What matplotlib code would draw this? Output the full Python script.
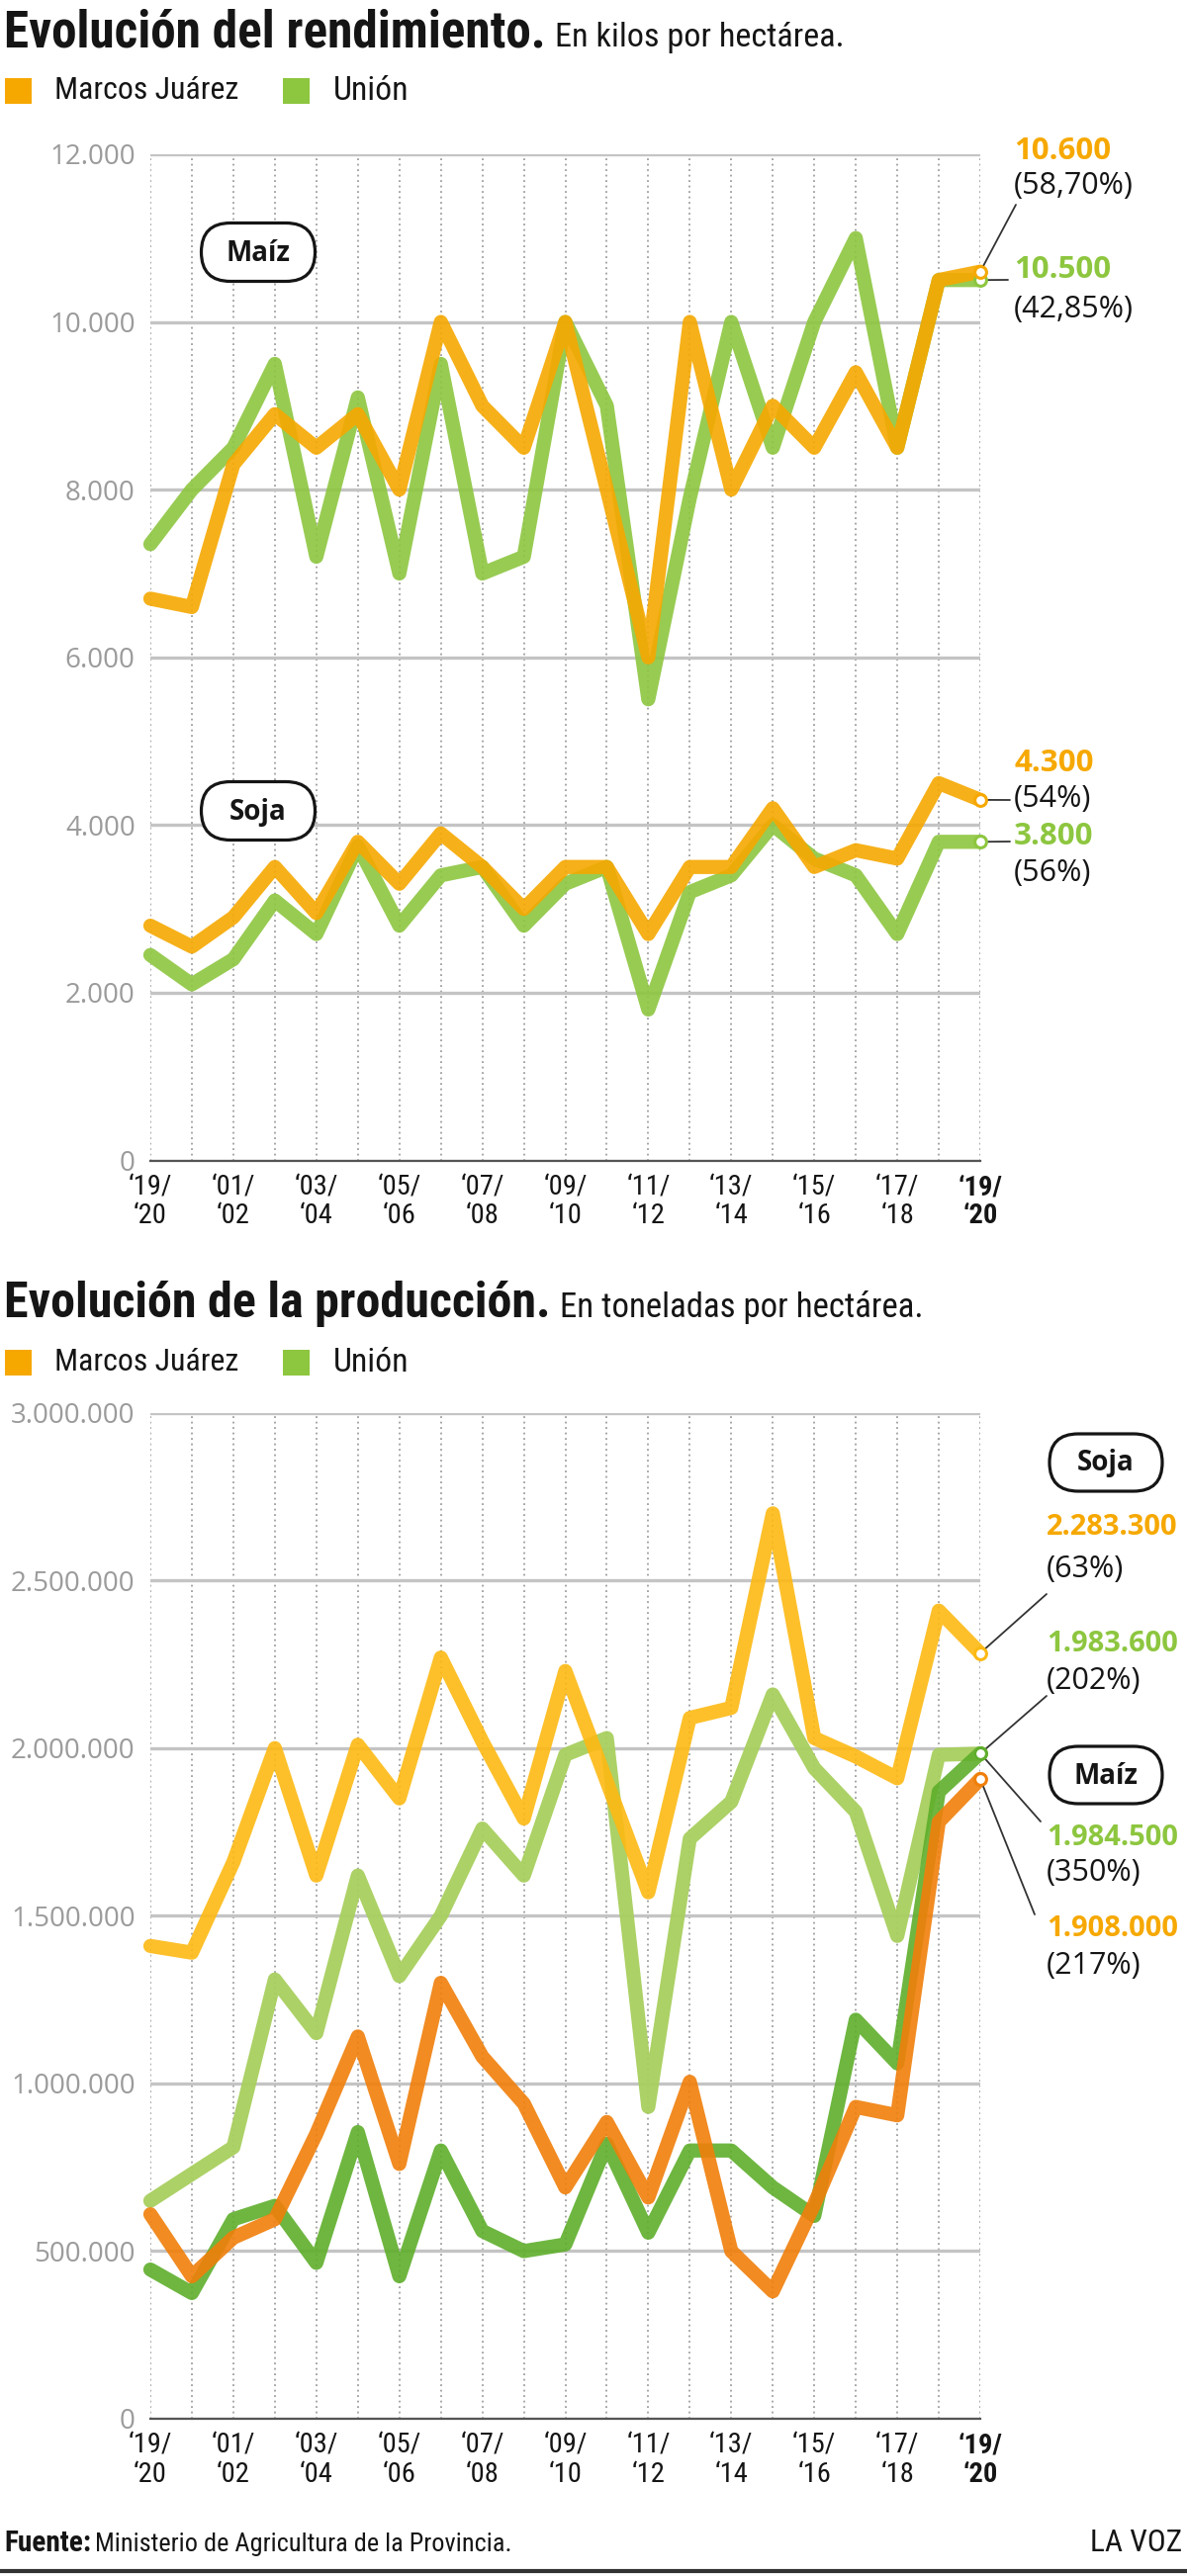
import matplotlib
matplotlib.use("Agg")
import matplotlib.pyplot as plt
from matplotlib import font_manager as fm
from matplotlib.patches import FancyBboxPatch, Rectangle
from matplotlib.lines import Line2D
from matplotlib.transforms import IdentityTransform

W, H = 1200, 2605

# ---------------- data ----------------
x_tick_labels = ["‘19/\n‘20", "", "‘01/\n‘02", "", "‘03/\n‘04", "", "‘05/\n‘06", "",
                 "‘07/\n‘08", "", "‘09/\n‘10", "", "‘11/\n‘12", "", "‘13/\n‘14", "",
                 "‘15/\n‘16", "", "‘17/\n‘18", "", "‘19/\n‘20"]

# Evolución del rendimiento (kg/ha)
rend_maiz_mj = [6700, 6600, 8300, 8900, 8500, 8900, 8000, 10000, 9000, 8500, 10000,
                8000, 6000, 10000, 8000, 9000, 8500, 9400, 8500, 10500, 10600]
rend_maiz_un = [7350, 8000, 8500, 9500, 7200, 9100, 7000, 9500, 7000, 7200, 10000,
                9000, 5500, 7900, 10000, 8500, 10000, 11000, 8500, 10500, 10500]
rend_soja_mj = [2800, 2550, 2900, 3500, 2950, 3800, 3300, 3900, 3500, 3000, 3500,
                3500, 2700, 3500, 3500, 4200, 3500, 3700, 3600, 4500, 4300]
rend_soja_un = [2450, 2100, 2400, 3100, 2700, 3750, 2800, 3400, 3500, 2800, 3300,
                3500, 1800, 3200, 3400, 4000, 3600, 3400, 2700, 3800, 3800]
rend_pct = {"maiz_mj": "(58,70%)", "maiz_un": "(42,85%)", "soja_mj": "(54%)", "soja_un": "(56%)"}
rend_yticks = [0, 2000, 4000, 6000, 8000, 10000, 12000]
rend_ylabels = ["0", "2.000", "4.000", "6.000", "8.000", "10.000", "12.000"]

# Evolución de la producción (toneladas)
prod_soja_mj = [1410000, 1390000, 1660000, 2000000, 1620000, 2010000, 1850000, 2270000,
                2020000, 1790000, 2230000, 1900000, 1570000, 2090000, 2120000, 2700000,
                2030000, 1975000, 1910000, 2410000, 2283300]
prod_soja_un = [650000, 730000, 810000, 1310000, 1150000, 1620000, 1320000, 1500000,
                1760000, 1620000, 1980000, 2030000, 930000, 1730000, 1840000, 2160000,
                1940000, 1810000, 1440000, 1980000, 1983600]
prod_maiz_mj = [610000, 425000, 540000, 595000, 850000, 1140000, 760000, 1300000,
                1080000, 940000, 690000, 885000, 660000, 1005000, 500000, 380000,
                640000, 930000, 905000, 1780000, 1908000]
prod_maiz_un = [445000, 375000, 595000, 635000, 465000, 855000, 425000, 800000,
                560000, 500000, 520000, 820000, 555000, 800000, 800000, 690000,
                605000, 1190000, 1060000, 1870000, 1984500]
prod_pct = {"soja_mj": "(63%)", "soja_un": "(202%)", "maiz_un": "(350%)", "maiz_mj": "(217%)"}
prod_yticks = [0, 500000, 1000000, 1500000, 2000000, 2500000, 3000000]
prod_ylabels = ["0", "500.000", "1.000.000", "1.500.000", "2.000.000", "2.500.000", "3.000.000"]

# ---------------- fonts ----------------
_ttf = fm.fontManager.ttflist
_names = {f.name for f in _ttf}
COND, COND_STRETCH = None, "normal"
for pref in ["Roboto Condensed", "Liberation Sans Narrow", "Open Sans Condensed",
             "Noto Sans Condensed", "Fira Sans Condensed", "Barlow Condensed"]:
    if pref in _names:
        COND = pref
        break
if COND is None:
    for fam in ["Roboto", "Open Sans", "Noto Sans", "Lato", "Inter"]:
        if any(f.name == fam and "condensed" in str(f.stretch) for f in _ttf):
            COND, COND_STRETCH = fam, "condensed"
            break
if COND is None:
    for f in _ttf:
        n = f.name
        if ("Condensed" in n or "Narrow" in n) and "Mono" not in n and "Serif" not in n:
            COND = n
            break
if COND is None:
    COND = "Roboto"
NARROW = [COND, "Roboto", "DejaVu Sans"]
SANS = ["Open Sans", "DejaVu Sans"]

# ---------------- style ----------------
ORANGE = "#F6A800"
GREEN = "#8DC63F"
SOJA_MJ = "#FDB913"
SOJA_UN = "#A8CF5E"
MAIZ_MJ = "#F07F0A"
MAIZ_UN = "#5EAE2B"
GRID = "#c4c4c4"
TICKGRAY = "#9b9b9b"
INK = "#151515"

fig = plt.figure(figsize=(W / 100, H / 100), dpi=100)
fig.patch.set_facecolor("white")
renderer = fig.canvas.get_renderer()


def fmt(v):
    return f"{int(v):,}".replace(",", ".")


def ptext(x, y, s, **kw):
    return fig.text(x / W, 1 - y / H, s, **kw)


def fit(t, width):
    bb = t.get_window_extent(renderer)
    t.set_fontsize(t.get_fontsize() * width / bb.width)
    return t


def ntext(x, y, s, **kw):
    return ptext(x, y, s, family=NARROW, fontstretch=COND_STRETCH, **kw)


def title(y_base, bold, bold_w, sub, sub_w):
    t1 = ntext(4, y_base, bold, fontsize=30, fontweight="bold", va="baseline", color=INK)
    fit(t1, bold_w)
    x2 = 4 + t1.get_window_extent(renderer).width + 9
    t2 = ntext(x2, y_base, sub, fontsize=20, va="baseline", color=INK)
    fit(t2, sub_w)


def legend(yc):
    items = [(5, ORANGE, "Marcos Juárez", 55, 186), (286, GREEN, "Unión", 337, 76)]
    for x0, col, label, lx, lw_ in items:
        fig.add_artist(Rectangle((x0, H - yc - 13), 27, 26, transform=IdentityTransform(),
                                 facecolor=col, edgecolor="none"))
        t = ntext(lx, yc, label, fontsize=20, va="center", color=INK)
        fit(t, lw_)


def pill(cx, cy, w, h, label):
    r = h / 2
    fig.add_artist(FancyBboxPatch((cx - w / 2, H - cy - h / 2), w, h,
                                  boxstyle=f"round,pad=0,rounding_size={r}",
                                  transform=IdentityTransform(), facecolor="white",
                                  edgecolor=INK, lw=2.3, zorder=20))
    ptext(cx, cy + 1, label, fontsize=20, fontweight="bold", family=SANS, ha="center",
          va="center", color=INK, zorder=21)


def setup(ax, ymax, yticks, ylabels):
    ax.set_xlim(0, 20)
    ax.set_ylim(0, ymax)
    ax.set_xticks(range(21))
    labs = ax.set_xticklabels(x_tick_labels, family=NARROW, fontstretch=COND_STRETCH,
                              fontsize=20.5, color=INK, linespacing=1.1)
    labs[-1].set_fontweight("bold")
    ax.set_yticks(yticks)
    ax.set_yticklabels(ylabels, family=SANS, fontsize=20, color=TICKGRAY)
    ax.tick_params(axis="both", length=0)
    ax.tick_params(axis="y", pad=11)
    ax.tick_params(axis="x", pad=10)
    ax.grid(axis="x", linestyle=(0, (1.2, 2.4)), color="#8e8e8e", lw=1.1)
    ax.grid(axis="y", color=GRID, lw=2.4)
    for s in ("top", "right", "left"):
        ax.spines[s].set_visible(False)
    ax.spines["bottom"].set_color("#555555")
    ax.spines["bottom"].set_linewidth(1.6)
    ax.set_axisbelow(True)
    ax.patch.set_alpha(0)


def line(ax, vals, col, z, alpha=0.9):
    ax.plot(range(len(vals)), vals, color=col, lw=10.3, solid_capstyle="round",
            solid_joinstyle="round", alpha=alpha, clip_on=False, zorder=z)


def marker(ax, v, col):
    ax.plot([20], [v], "o", ms=8.5, mfc="white", mec=col, mew=2.2, clip_on=False, zorder=12)


def leader(ax, v, px, py):
    ax.annotate("", xy=(20, v), xytext=(px, H - py), textcoords="figure pixels",
                arrowprops=dict(arrowstyle="-", color="#333333", lw=1.3, shrinkA=0, shrinkB=4),
                zorder=11, annotation_clip=False)


def value_label(x, y, v, col, size):
    ptext(x, y, fmt(v), fontsize=size, fontweight="bold", family=SANS, color=col, va="center")


def pct_label(x, y, s):
    ptext(x, y, s, fontsize=22, family=SANS, color=INK, va="center")


# ---------------- chart 1 ----------------
title(47, "Evolución del rendimiento.", 548, "En kilos por hectárea.", 292)
legend(92)

ax1 = fig.add_axes([152 / W, 1 - 1173.5 / H, (991 - 152) / W, (1173.5 - 156) / H])
setup(ax1, 12000, rend_yticks, rend_ylabels)
line(ax1, rend_maiz_un, GREEN, 3)
line(ax1, rend_maiz_mj, ORANGE, 4)
line(ax1, rend_soja_un, GREEN, 3)
line(ax1, rend_soja_mj, ORANGE, 4)

leader(ax1, rend_maiz_mj[-1], 1027, 207)
leader(ax1, rend_maiz_un[-1], 1019, 283)
leader(ax1, rend_soja_mj[-1], 1021, 809)
leader(ax1, rend_soja_un[-1], 1021, 851)
marker(ax1, rend_maiz_un[-1], GREEN)
marker(ax1, rend_maiz_mj[-1], ORANGE)
marker(ax1, rend_soja_mj[-1], ORANGE)
marker(ax1, rend_soja_un[-1], GREEN)

X1 = 1025
value_label(X1, 153, rend_maiz_mj[-1], ORANGE, 22.5)
pct_label(X1, 188, rend_pct["maiz_mj"])
value_label(X1, 273, rend_maiz_un[-1], GREEN, 22.5)
pct_label(X1, 313, rend_pct["maiz_un"])
value_label(X1, 772, rend_soja_mj[-1], ORANGE, 22.5)
pct_label(X1, 808, rend_pct["soja_mj"])
value_label(X1, 846, rend_soja_un[-1], GREEN, 22.5)
pct_label(X1, 883, rend_pct["soja_un"])

pill(261, 255, 115, 59, "Maíz")
pill(261, 820, 115, 59, "Soja")

# ---------------- chart 2 ----------------
title(1332, "Evolución de la producción.", 552, "En toneladas por hectárea.", 366)
legend(1378)

ax2 = fig.add_axes([152 / W, 1 - 2446 / H, (991 - 152) / W, (2446 - 1428.7) / H])
setup(ax2, 3000000, prod_yticks, prod_ylabels)
line(ax2, prod_soja_un, SOJA_UN, 3, alpha=0.95)
line(ax2, prod_soja_mj, SOJA_MJ, 4, alpha=0.9)
line(ax2, prod_maiz_un, MAIZ_UN, 5, alpha=0.9)
line(ax2, prod_maiz_mj, MAIZ_MJ, 6, alpha=0.9)

X2 = 1058
leader(ax2, prod_soja_mj[-1], X2, 1612)
leader(ax2, prod_soja_un[-1], X2, 1715)
leader(ax2, prod_maiz_un[-1], X2 - 6, 1842)
leader(ax2, prod_maiz_mj[-1], X2 - 12, 1936)
marker(ax2, prod_soja_mj[-1], SOJA_MJ)
marker(ax2, prod_soja_un[-1], SOJA_UN)
marker(ax2, prod_maiz_mj[-1], MAIZ_MJ)
marker(ax2, prod_maiz_un[-1], MAIZ_UN)

value_label(X2, 1545, prod_soja_mj[-1], ORANGE, 21)
pct_label(X2, 1587, prod_pct["soja_mj"])
value_label(X2, 1662, prod_soja_un[-1], GREEN, 21)
pct_label(X2, 1700, prod_pct["soja_un"])
value_label(X2, 1858, prod_maiz_un[-1], GREEN, 21)
pct_label(X2, 1894, prod_pct["maiz_un"])
value_label(X2, 1950, prod_maiz_mj[-1], ORANGE, 21)
pct_label(X2, 1988, prod_pct["maiz_mj"])

pill(X2 + 60, 1479, 114, 58, "Soja")
pill(X2 + 60, 1795, 114, 58, "Maíz")

# ---------------- footer ----------------
f1 = ntext(4, 2580, "Fuente:", fontsize=20, fontweight="bold", va="baseline", color=INK)
fit(f1, 88)
f2 = ntext(96, 2580, "Ministerio de Agricultura de la Provincia.", fontsize=20,
           va="baseline", color=INK)
fit(f2, 420)
f3 = ntext(1195, 2580, "LA VOZ", fontsize=20, va="baseline", ha="right", color=INK)
fit(f3, 93)
fig.add_artist(Line2D([0, W], [H - 2600, H - 2600], transform=IdentityTransform(),
                      color="#333333", lw=3))

fig.savefig("out.png", dpi=100, facecolor="white")
